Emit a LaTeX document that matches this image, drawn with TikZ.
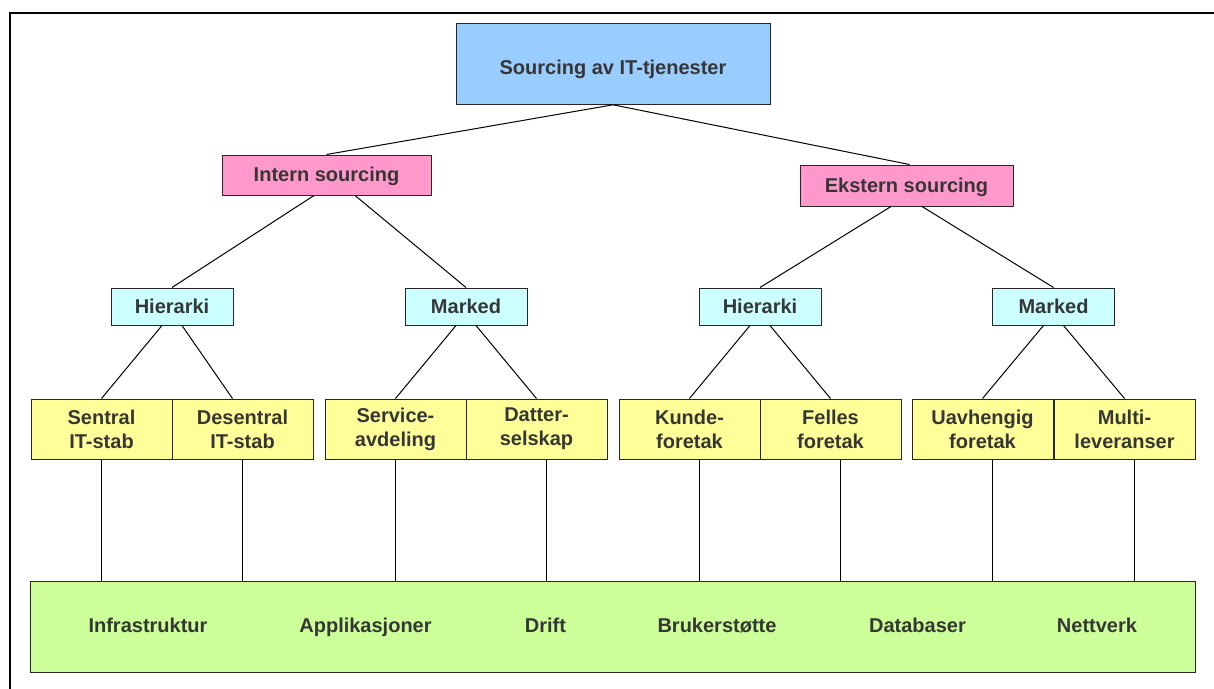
\documentclass[tikz,border=0pt]{standalone}
\usepackage{fontspec}
\setmainfont{Liberation Sans}
\definecolor{topblue}{HTML}{99CCFF}
\definecolor{srcpink}{HTML}{FF99CC}
\definecolor{formcyan}{HTML}{CCFFFF}
\definecolor{leafyellow}{HTML}{FFFF99}
\definecolor{basegreen}{HTML}{CCFF99}
\definecolor{txtgray}{HTML}{363636}
\tikzset{
  box/.style={draw=black!85, line width=1pt, inner sep=0pt, align=center,
    text=txtgray, font=\fontsize{20}{24}\selectfont\bfseries},
  oneline/.style={text height=18pt, text depth=4.2pt},
  leaf/.style={box, fill=leafyellow, minimum width=141pt, minimum height=60pt},
  form/.style={box, oneline, fill=formcyan, minimum width=122pt, minimum height=37pt},
  area/.style={inner sep=0pt, anchor=base, text=txtgray, font=\fontsize{20}{24}\selectfont\bfseries},
  link/.style={line width=1pt, black}
}
\begin{document}
\begin{tikzpicture}[x=1pt, y=-1pt]
\useasboundingbox (0,0) rectangle (1214,688);
\clip (0,0) rectangle (1214,688);

% Outer frame (runs off right and bottom)
\draw[line width=2pt, black] (10,13) rectangle (1240,720);

% Top level
\node[box, fill=topblue, text height=22pt, text depth=0.4pt, minimum width=314pt, minimum height=81pt] (top) at (613,63.8) {Sourcing av IT-tjenester};

% Sourcing level
\node[box, oneline, fill=srcpink, minimum width=209pt, minimum height=40pt] (intern) at (326.5,175) {Intern sourcing};
\node[box, oneline, fill=srcpink, minimum width=213pt, minimum height=41pt] (ekstern) at (906.5,185.5) {Ekstern sourcing};

% Form level
\node[form] (hierL) at (172,306.5) {Hierarki};
\node[form] (markedL) at (466,306.5) {Marked};
\node[form] (hierR) at (760,306.5) {Hierarki};
\node[form] (markedR) at (1053.5,306.5) {Marked};

% Leaf level
\node[leaf] (sentral) at (101.5,429) {Sentral\\IT-stab};
\node[leaf] (desentral) at (242.5,429) {Desentral\\IT-stab};
\node[leaf] (service) at (395.5,429) {Service-\\avdeling};
\node[leaf] (datter) at (536.5,429) {Datter-\\selskap};
\node[leaf] (kunde) at (689.5,429) {Kunde-\\foretak};
\node[leaf] (felles) at (830.5,429) {Felles\\foretak};
\node[leaf] (uavhengig) at (982.5,429) {Uavhengig\\foretak};
\node[leaf] (multi) at (1124.5,429) {Multi-\\leveranser};

% Service areas
\node[box, fill=basegreen, minimum width=1165pt, minimum height=91pt] (base) at (613,626.5) {};
\node[area] (infra) at (148,632) {Infrastruktur};
\node[area] (appl) at (365.5,632) {Applikasjoner};
\node[area] (drift) at (545.5,632) {Drift};
\node[area] (bruker) at (717,632) {Brukerstøtte};
\node[area] (dbase) at (917.5,632) {Databaser};
\node[area] (nett) at (1097,632) {Nettverk};

% Tree connectors
\draw[link] (top.south) -- (intern.north);
\draw[link] (top.south) -- ([xshift=3pt]ekstern.north);
\draw[link] ([xshift=-12.5pt]intern.south) -- (hierL.north);
\draw[link] ([xshift=28.5pt]intern.south) -- (markedL.north);
\draw[link] ([xshift=-15.5pt]ekstern.south) -- (hierR.north);
\draw[link] ([xshift=15.5pt]ekstern.south) -- (markedR.north);
\draw[link] ([xshift=-10pt]hierL.south) -- (sentral.north);
\draw[link] ([xshift=10pt]hierL.south) -- ([xshift=-10pt]desentral.north);
\draw[link] ([xshift=-10pt]markedL.south) -- (service.north);
\draw[link] ([xshift=10pt]markedL.south) -- (datter.north);
\draw[link] ([xshift=-10pt]hierR.south) -- (kunde.north);
\draw[link] ([xshift=10pt]hierR.south) -- (felles.north);
\draw[link] ([xshift=-10pt]markedR.south) -- (uavhengig.north);
\draw[link] ([xshift=10pt]markedR.south) -- (multi.north);

% Leaf to service area drops
\draw[link] (sentral.south) -- (sentral.south |- base.north);
\draw[link] (desentral.south) -- (desentral.south |- base.north);
\draw[link] (service.south) -- (service.south |- base.north);
\draw[link] ([xshift=10pt]datter.south) -- ([xshift=10pt]datter.south |- base.north);
\draw[link] ([xshift=10pt]kunde.south) -- ([xshift=10pt]kunde.south |- base.north);
\draw[link] ([xshift=10pt]felles.south) -- ([xshift=10pt]felles.south |- base.north);
\draw[link] ([xshift=10pt]uavhengig.south) -- ([xshift=10pt]uavhengig.south |- base.north);
\draw[link] ([xshift=10pt]multi.south) -- ([xshift=10pt]multi.south |- base.north);

\end{tikzpicture}
\end{document}
